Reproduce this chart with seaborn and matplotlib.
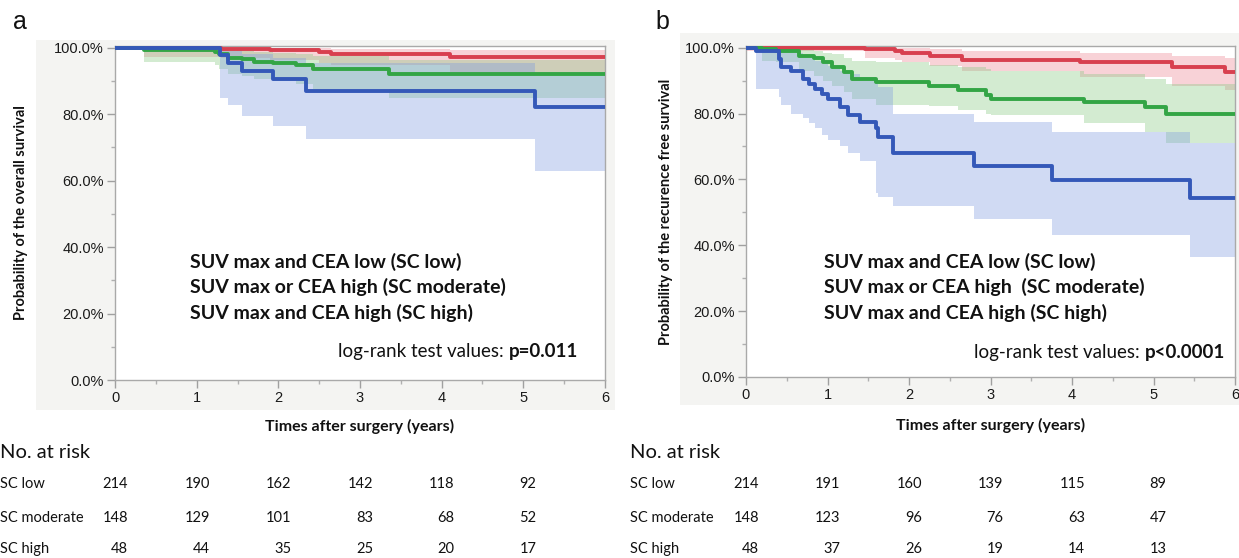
import numpy as np
import pandas as pd
import matplotlib
matplotlib.use("Agg")
import matplotlib.pyplot as plt
import matplotlib.transforms as mtransforms
from matplotlib.patches import Rectangle
from matplotlib.ticker import PercentFormatter, MultipleLocator
import seaborn as sns

# ---------------- data ----------------
groups = ["SC low", "SC moderate", "SC high"]
legend_a = ["SUV max and CEA low (SC low)",
            "SUV max or CEA high (SC moderate)",
            "SUV max and CEA high (SC high)"]
legend_b = ["SUV max and CEA low (SC low)",
            "SUV max or CEA high  (SC moderate)",
            "SUV max and CEA high (SC high)"]

# Panel a: overall survival
a_low_t = [0, 0.35, 1.3, 1.9, 2.5, 2.65, 4.1, 6]
a_low_s = [1.0, 0.998, 0.996, 0.993, 0.988, 0.981, 0.972, 0.972]
a_low_lo = [1.0, 0.972, 0.968, 0.962, 0.955, 0.948, 0.928, 0.928]
a_low_hi = [1.0, 1.0, 1.0, 0.999, 0.998, 0.995, 0.992, 0.992]

a_mod_t = [0, 0.35, 1.22, 1.27, 1.38, 1.55, 1.7, 1.93, 2.22, 2.42, 3.36, 6]
a_mod_s = [1.0, 0.993, 0.987, 0.98, 0.97, 0.965, 0.958, 0.955, 0.948, 0.935, 0.92, 0.92]
a_mod_lo = [1.0, 0.957, 0.948, 0.935, 0.92, 0.915, 0.905, 0.9, 0.89, 0.875, 0.85, 0.85]
a_mod_hi = [1.0, 1.0, 0.999, 0.997, 0.993, 0.99, 0.987, 0.985, 0.982, 0.975, 0.963, 0.963]

a_high_t = [0, 1.28, 1.38, 1.55, 1.93, 2.34, 5.14, 6]
a_high_s = [1.0, 0.977, 0.953, 0.93, 0.907, 0.87, 0.82, 0.82]
a_high_lo = [1.0, 0.85, 0.826, 0.795, 0.763, 0.725, 0.63, 0.63]
a_high_hi = [1.0, 0.998, 0.99, 0.98, 0.97, 0.953, 0.915, 0.915]

# Panel b: recurrence free survival
b_low_t = [0, 1.46, 1.83, 1.92, 2.26, 2.65, 4.1, 5.23, 5.88, 6]
b_low_s = [1.0, 0.995, 0.99, 0.985, 0.975, 0.963, 0.955, 0.94, 0.925, 0.925]
b_low_lo = [0.99, 0.97, 0.962, 0.955, 0.945, 0.93, 0.912, 0.885, 0.87, 0.87]
b_low_hi = [1.0, 1.0, 0.999, 0.998, 0.995, 0.99, 0.985, 0.975, 0.97, 0.97]

b_mod_t = [0, 0.2, 0.37, 0.65, 0.83, 0.95, 1.05, 1.2, 1.3, 1.6, 2.25, 2.6, 2.95, 3.0, 4.15, 4.9, 5.15, 6]
b_mod_s = [1.0, 0.995, 0.99, 0.975, 0.968, 0.955, 0.94, 0.925, 0.905, 0.895, 0.883, 0.87, 0.855, 0.845, 0.835, 0.82, 0.80, 0.80]
b_mod_lo = [1.0, 0.96, 0.955, 0.93, 0.915, 0.9, 0.885, 0.865, 0.845, 0.825, 0.823, 0.81, 0.80, 0.795, 0.77, 0.745, 0.71, 0.71]
b_mod_hi = [1.0, 1.0, 1.0, 0.995, 0.99, 0.985, 0.98, 0.97, 0.96, 0.955, 0.948, 0.94, 0.935, 0.93, 0.92, 0.905, 0.89, 0.89]

b_high_t = [0, 0.12, 0.4, 0.43, 0.55, 0.7, 0.77, 0.85, 0.93, 1.0, 1.15, 1.25, 1.4, 1.6, 1.62, 1.8, 2.8, 3.75, 5.45, 6]
b_high_s = [1.0, 0.99, 0.965, 0.94, 0.93, 0.905, 0.89, 0.875, 0.86, 0.845, 0.82, 0.795, 0.775, 0.755, 0.73, 0.68, 0.64, 0.597, 0.545, 0.545]
b_high_lo = [1.0, 0.875, 0.85, 0.825, 0.8, 0.785, 0.77, 0.755, 0.735, 0.72, 0.7, 0.68, 0.655, 0.56, 0.548, 0.52, 0.48, 0.432, 0.365, 0.365]
b_high_hi = [1.0, 1.0, 0.998, 0.99, 0.985, 0.975, 0.968, 0.96, 0.955, 0.945, 0.93, 0.92, 0.91, 0.895, 0.88, 0.80, 0.775, 0.745, 0.71, 0.71]

# Numbers at risk
risk_years = [0, 1, 2, 3, 4, 5]
a_risk_low = [214, 190, 162, 142, 118, 92]
a_risk_mod = [148, 129, 101, 83, 68, 52]
a_risk_high = [48, 44, 35, 25, 20, 17]
b_risk_low = [214, 191, 160, 139, 115, 89]
b_risk_mod = [148, 123, 96, 76, 63, 47]
b_risk_high = [48, 37, 26, 19, 14, 13]

# ---------------- style ----------------
sns.set_style("white")
plt.rcParams["font.family"] = ["Liberation Sans", "DejaVu Sans"]
CAL = ["Lato", "DejaVu Sans"]

line_colors = {"SC low": "#d8404f", "SC moderate": "#33a545", "SC high": "#3458b8"}
band_colors = {"SC low": "#ee8a96", "SC moderate": "#86c982", "SC high": "#7d9be0"}
band_alpha = {"SC low": 0.38, "SC moderate": 0.36, "SC high": 0.36}

W, H = 1239, 558
fig = plt.figure(figsize=(W / 100, H / 100), dpi=100)
fig.patch.set_facecolor("white")

def px(x0, y0, x1, y1):
    return [x0 / W, 1 - y1 / H, (x1 - x0) / W, (y1 - y0) / H]

# gray backdrops
for (x0, y0, x1, y1) in [(36, 40, 615, 410), (680, 33, 1239, 405)]:
    fig.patches.append(Rectangle((x0 / W, 1 - y1 / H), (x1 - x0) / W, (y1 - y0) / H,
                                 transform=fig.transFigure, facecolor="#f4f4f2",
                                 edgecolor="none", zorder=-10))

ax_a = fig.add_axes(px(115, 46, 605, 380))
ax_b = fig.add_axes(px(746, 46, 1235, 377))

def make_df(t, s, lo, hi, g):
    return pd.DataFrame({"time": t, "surv": s, "lo": lo, "hi": hi, "group": g})

data_a = [make_df(a_low_t, a_low_s, a_low_lo, a_low_hi, "SC low"),
          make_df(a_mod_t, a_mod_s, a_mod_lo, a_mod_hi, "SC moderate"),
          make_df(a_high_t, a_high_s, a_high_lo, a_high_hi, "SC high")]
data_b = [make_df(b_low_t, b_low_s, b_low_lo, b_low_hi, "SC low"),
          make_df(b_mod_t, b_mod_s, b_mod_lo, b_mod_hi, "SC moderate"),
          make_df(b_high_t, b_high_s, b_high_lo, b_high_hi, "SC high")]

def draw_panel(ax, dfs, ylabel, legend_lines, leg_xy, p_text, p_xy, xlab_y, ylab_x):
    ax.set_facecolor("white")
    for df in dfs:
        g = df["group"].iloc[0]
        ax.fill_between(df["time"], df["lo"], df["hi"], step="post",
                        color=band_colors[g], alpha=band_alpha[g], lw=0, zorder=1)
    for df in dfs:
        g = df["group"].iloc[0]
        sns.lineplot(data=df, x="time", y="surv", ax=ax, color=line_colors[g],
                     lw=2.8, drawstyle="steps-post", estimator=None, sort=False,
                     legend=False, zorder=3)
    ax.set_xlim(0, 6)
    ax.set_ylim(0, 1.005)
    ax.xaxis.set_major_locator(MultipleLocator(1))
    ax.xaxis.set_minor_locator(MultipleLocator(0.5))
    ax.yaxis.set_major_locator(MultipleLocator(0.2))
    ax.yaxis.set_minor_locator(MultipleLocator(0.1))
    ax.yaxis.set_major_formatter(PercentFormatter(1.0, decimals=1))
    for sp in ax.spines.values():
        sp.set_color("#a9a9a9")
        sp.set_linewidth(1.0)
    ax.tick_params(axis="both", which="major", direction="out", length=6, width=1,
                   color="#a0a0a0", labelsize=10.5, labelcolor="#1a1a1a", pad=2,
                   bottom=True, left=True)
    ax.tick_params(axis="both", which="minor", direction="out", length=3, width=1,
                   color="#b0b0b0", bottom=True, left=True)
    ax.set_xlabel("Times after surgery (years)", family=CAL, fontweight="bold",
                  fontsize=11.5, color="#111111")
    ax.set_ylabel(ylabel, family=CAL, fontweight="bold", fontsize=10.5, color="#111111")
    ax.xaxis.set_label_coords(0.5, xlab_y)
    ax.yaxis.set_label_coords(ylab_x, 0.5)
    for i, line in enumerate(legend_lines):
        ax.text(leg_xy[0], leg_xy[1][i], line, family=CAL, fontweight="bold",
                fontsize=14, color="#111111", ha="left", va="center", zorder=5)
    pb = ax.text(p_xy[0], p_xy[1], p_text, family=CAL, fontweight="bold",
                 fontsize=13.5, color="#111111", ha="right", va="baseline", zorder=5)
    ax.annotate("log-rank test values: ", xy=(0, 0), xycoords=pb,
                family=CAL, fontsize=13.5, color="#111111", ha="right",
                va="bottom", zorder=5)

draw_panel(ax_a, data_a, "Probability of the overall survival", legend_a,
           (0.92, [0.354, 0.279, 0.201]), "p=0.011", (5.67, 0.07), -0.118, -0.178)
draw_panel(ax_b, data_b, "Probability of the recurence free survival", legend_b,
           (0.957, [0.348, 0.273, 0.194]), "p<0.0001", (5.88, 0.057), -0.125, -0.15)

# panel letters
fig.text(13 / W, 1 - 29 / H, "a", fontsize=18, color="#111111", ha="left", va="baseline")
fig.text(655 / W, 1 - 29 / H, "b", fontsize=18, color="#111111", ha="left", va="baseline")

# risk tables
row_y = [484, 518, 549]
def risk_table(ax, label_x, risks):
    fig.text(label_x / W, 1 - 452 / H, "No. at risk", family=CAL, fontsize=14.5,
             color="#111111", ha="left", va="center")
    trans = mtransforms.blended_transform_factory(ax.transData, fig.transFigure)
    trans = mtransforms.offset_copy(trans, fig=fig, x=13, y=0, units="dots")
    for r, (g, vals) in enumerate(zip(groups, risks)):
        yy = 1 - row_y[r] / H
        fig.text(label_x / W, yy, g, family=CAL, fontsize=10.5, color="#111111",
                 ha="left", va="center")
        for yr, v in zip(risk_years, vals):
            fig.text(yr, yy, str(v), family=CAL, fontsize=10.5, color="#111111",
                     ha="right", va="center", transform=trans)

risk_table(ax_a, 0, [a_risk_low, a_risk_mod, a_risk_high])
risk_table(ax_b, 630, [b_risk_low, b_risk_mod, b_risk_high])

fig.savefig("out.png", dpi=100, facecolor="white")
